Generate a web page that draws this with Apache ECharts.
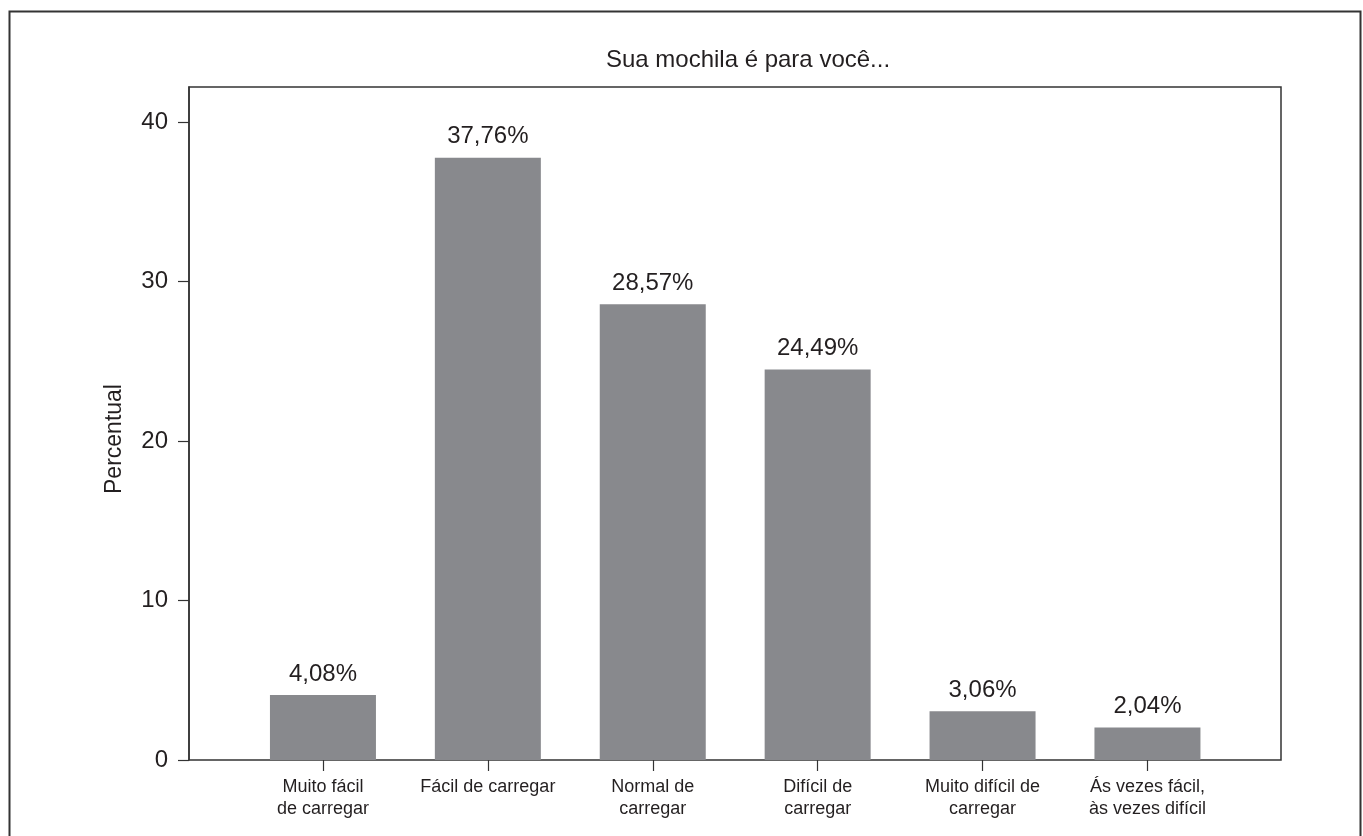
<!DOCTYPE html>
<html>
<head>
<meta charset="utf-8">
<title>Sua mochila é para você...</title>
<script src="https://cdn.jsdelivr.net/npm/echarts@6/dist/echarts.min.js"></script>
<style>
  html, body { margin: 0; padding: 0; background: #ffffff; }
  #chart { width: 1363px; height: 836px; }
</style>
</head>
<body>
<div id="chart"></div>
<script>
// Survey answers and their shares (percent)
const categories = [
  'Muito fácil\nde carregar',
  'Fácil de carregar',
  'Normal de\ncarregar',
  'Difícil de\ncarregar',
  'Muito difícil de\ncarregar',
  'Ás vezes fácil,\nàs vezes difícil'
];
const percentages = [4.08, 37.76, 28.57, 24.49, 3.06, 2.04];
const yTicks = [0, 10, 20, 30, 40];
const yMax = 42.2;

const ink = '#231f20';
const frame = '#333333';
const barColor = '#88898d';
const font = 'Arial, "Liberation Sans", Helvetica, sans-serif';

const fmtPct = v => v.toFixed(2).replace('.', ',') + '%';

const chart = echarts.init(document.getElementById('chart'), null, { renderer: 'canvas' });

chart.setOption({
  animation: false,
  backgroundColor: '#ffffff',
  textStyle: { fontFamily: font, color: ink },
  title: {
    text: 'Sua mochila é para você...',
    left: 743,
    top: 43,
    textAlign: 'center',
    textStyle: { fontFamily: font, fontSize: 24, fontWeight: 'normal', color: ink }
  },
  graphic: [
    {
      type: 'rect',
      shape: { x: 9.5, y: 11.5, width: 1351, height: 900 },
      style: { fill: 'none', stroke: frame, lineWidth: 2 },
      silent: true
    },
    {
      type: 'text',
      x: 115,
      y: 439,
      rotation: Math.PI / 2,
      style: {
        text: 'Percentual',
        fontFamily: font,
        fontSize: 23,
        fill: ink,
        align: 'center',
        verticalAlign: 'middle'
      },
      silent: true
    }
  ],
  grid: [
    // plot frame with the value scale
    {
      left: 189, top: 87, width: 1092, height: 673,
      show: true, borderColor: frame, borderWidth: 1.5,
      backgroundColor: 'transparent'
    },
    // inner band holding the categories
    {
      left: 240.5, top: 87, width: 989.4, height: 673
    }
  ],
  xAxis: [
    { type: 'value', gridIndex: 0, show: false, min: 0, max: 1 },
    {
      type: 'category',
      gridIndex: 1,
      data: categories,
      axisLine: { show: false },
      axisTick: {
        show: true, alignWithLabel: true, length: 11,
        lineStyle: { color: frame, width: 1.2 }
      },
      axisLabel: {
        margin: 16,
        fontFamily: font,
        fontSize: 18,
        lineHeight: 22,
        color: ink,
        interval: 0,
        align: 'center'
      },
      splitLine: { show: false }
    }
  ],
  yAxis: [
    {
      type: 'value',
      gridIndex: 0,
      min: 0,
      max: yMax,
      interval: 10,
      axisLine: { show: true, lineStyle: { color: frame, width: 1.5 } },
      axisTick: {
        show: true, length: 11, customValues: yTicks,
        lineStyle: { color: frame, width: 1.2 }
      },
      axisLabel: {
        customValues: yTicks,
        margin: 21,
        fontFamily: font,
        fontSize: 24,
        color: ink
      },
      splitLine: { show: false }
    },
    { type: 'value', gridIndex: 1, min: 0, max: yMax, show: false }
  ],
  series: [
    {
      type: 'bar',
      xAxisIndex: 1,
      yAxisIndex: 1,
      data: percentages,
      barWidth: 106,
      itemStyle: { color: barColor },
      label: {
        show: true,
        position: 'top',
        distance: 9,
        fontFamily: font,
        fontSize: 24,
        color: ink,
        formatter: p => fmtPct(p.value)
      }
    }
  ]
});
</script>
</body>
</html>
